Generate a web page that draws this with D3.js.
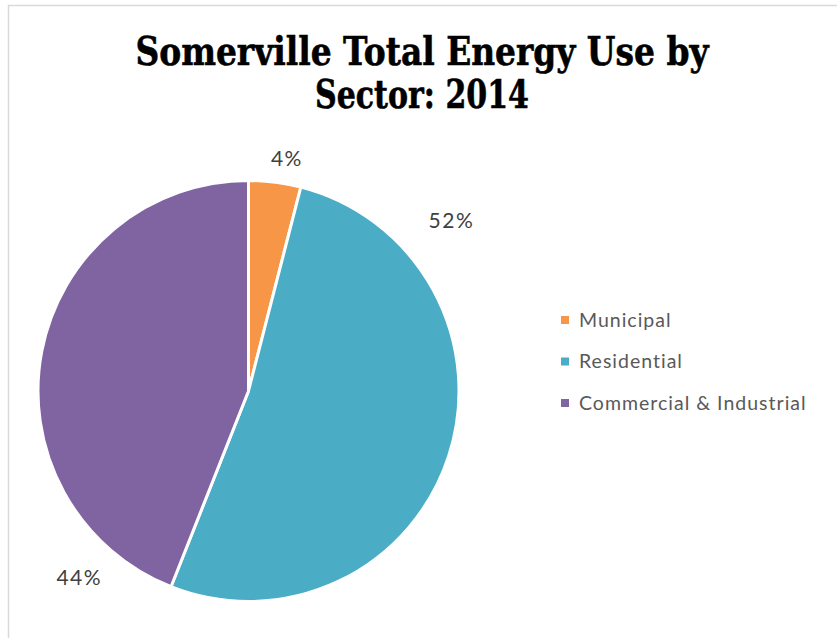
<!DOCTYPE html>
<html><head><meta charset="utf-8">
<script src="https://cdn.jsdelivr.net/npm/d3@7"></script>
<style>body{margin:0;background:#fff}svg{display:block}</style>
</head><body>
<script>
const categories = ["Municipal", "Residential", "Commercial & Industrial"];
const values = [4, 52, 44];
const labels = ["4%", "52%", "44%"];
const colors = ["#F79646", "#4BACC6", "#8064A2"];
const titleLines = ["Somerville Total Energy Use by", "Sector: 2014"];

const W = 837, H = 638;
const svg = d3.select("body").append("svg").attr("width", W).attr("height", H);

// chart border (clipped)
svg.append("rect").attr("x", 8.5).attr("y", 5.5).attr("width", 900).attr("height", 900)
  .attr("fill", "#fff").attr("stroke", "#d9d9d9").attr("stroke-width", 1.5);

// title
const tw = [573, 214];
svg.selectAll("text.title").data(titleLines).enter().append("text")
  .attr("class", "title")
  .attr("x", 422).attr("y", (d, i) => 65 + i * 43)
  .attr("text-anchor", "middle")
  .attr("font-family", "DejaVu Serif")
  .attr("font-weight", "bold")
  .attr("font-size", 40)
  .attr("fill", "#000")
  .attr("stroke", "#000").attr("stroke-width", 0.6)
  .attr("textLength", (d, i) => tw[i])
  .attr("lengthAdjust", "spacingAndGlyphs")
  .text(d => d);

const cx = 248.5, cy = 391, r = 210.5;
const pie = d3.pie().sort(null).value(d => d)(values);
const arc = d3.arc().innerRadius(0).outerRadius(r);
const g = svg.append("g").attr("transform", `translate(${cx},${cy})`);
g.selectAll("path").data(pie).enter().append("path")
  .attr("d", arc)
  .attr("fill", (d, i) => colors[i])
  .attr("stroke", "#fff").attr("stroke-width", 3).attr("stroke-linejoin", "round");

// label placement (Excel "best fit"): fraction along slice and distance from centre
const labelFrac = [0.65, 0.19, 0.13];
const labelDist = [236, 265, 252];
g.selectAll("text.lbl").data(pie).enter().append("text")
  .attr("class", "lbl")
  .attr("transform", (d, i) => {
    const a = d.startAngle + (d.endAngle - d.startAngle) * labelFrac[i];
    return `translate(${Math.sin(a) * labelDist[i]},${-Math.cos(a) * labelDist[i]})`;
  })
  .attr("text-anchor", "middle").attr("dy", "0.35em")
  .attr("font-family", "Lato, 'Open Sans', sans-serif")
  .attr("font-size", 21).attr("letter-spacing", 1.5).attr("fill", "#404040")
  .text((d, i) => labels[i]);

const leg = svg.append("g").attr("transform", "translate(561,320)");
const items = leg.selectAll("g").data(categories).enter().append("g")
  .attr("transform", (d, i) => `translate(0,${i * 41.5})`);
items.append("rect").attr("x", 0).attr("y", -4).attr("width", 8).attr("height", 8)
  .attr("fill", (d, i) => colors[i]);
items.append("text").attr("x", 18).attr("y", 0).attr("dy", "0.35em")
  .attr("font-family", "Lato, 'Open Sans', sans-serif")
  .attr("font-size", 19.5).attr("letter-spacing", 1.0).attr("fill", "#595959")
  .text(d => d);
</script>
</body></html>
